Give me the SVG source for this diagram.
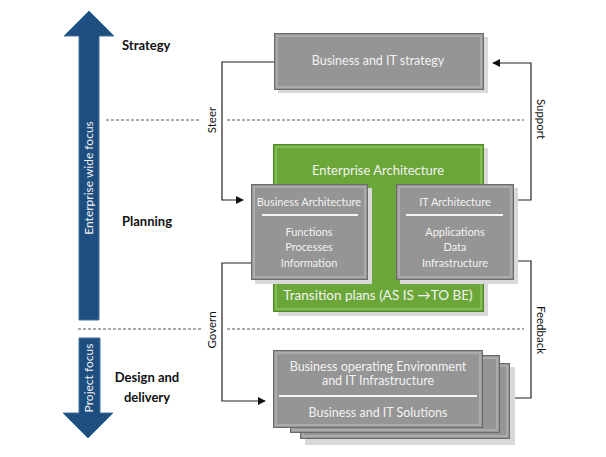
<svg xmlns="http://www.w3.org/2000/svg" width="606" height="457" viewBox="0 0 606 457">
<defs>
<style>
.lbl{font-family:Lato,"Open Sans",sans-serif;font-weight:bold;font-size:13px;fill:#111}
.side{font-family:Lato,"Open Sans",sans-serif;font-size:11.5px;fill:#111}
.wt{font-family:Lato,"Open Sans",sans-serif;fill:#f2f2f2;text-anchor:middle}
.shadow{fill:#d9d9d9}
.gout{fill:#959595;stroke:#6b6b6b;stroke-width:1}
.gin{fill:none;stroke:#b3b3b3;stroke-width:1.5}
.grn{fill:#6aa738;stroke:#4f8a26;stroke-width:1}
.grnin{fill:none;stroke:#8cc25e;stroke-width:1.5}
.sep{stroke:#f4f4f4;stroke-width:2}
.dash{stroke:#555;stroke-width:1;stroke-dasharray:3,2;fill:none}
.con{stroke:#222;stroke-width:1.2;fill:none}
.blue{fill:#1d4e7f;stroke:#4672a0;stroke-width:1}
</style>
<marker id="ah" viewBox="0 0 10 10" refX="9" refY="5" markerWidth="8" markerHeight="8" orient="auto" markerUnits="userSpaceOnUse">
<path d="M0,0 L10,5 L0,10 z" fill="#111"/>
</marker>
</defs>
<rect width="606" height="457" fill="#fff"/>

<g id="focus-arrows">
<polygon class="blue" points="89,11 114,36 99,36 99,320 79,320 79,36 64,36"/>
<polygon class="blue" points="79,338 100,338 100,413 113,413 88,438 63,413 79,413"/>
<text class="wt" font-size="12" transform="translate(93,178) rotate(-90)">Enterprise wide focus</text>
<text class="wt" font-size="12" transform="translate(93,378) rotate(-90)">Project focus</text>
</g>

<g id="level-labels">
<text class="lbl" x="122" y="50">Strategy</text>
<text class="lbl" x="122" y="226">Planning</text>
<text class="lbl" x="147" y="382" text-anchor="middle">Design and</text>
<text class="lbl" x="147" y="402" text-anchor="middle">delivery</text>
</g>

<g id="separators">
<line class="dash" x1="106" y1="120" x2="201" y2="120"/>
<line class="dash" x1="227" y1="120" x2="524" y2="120"/>
<line class="dash" x1="78" y1="329" x2="202" y2="329"/>
<line class="dash" x1="227" y1="329" x2="524" y2="329"/>
</g>

<g id="connectors">
<polyline class="con" points="274,62 222,62 222,200 243,200" marker-end="url(#ah)"/>
<polyline class="con" points="513,200 531,200 531,63 493,63" marker-end="url(#ah)"/>
<polyline class="con" points="251,263 222,263 222,401 265,401" marker-end="url(#ah)"/>
<polyline class="con" points="513,261 531,261 531,398 510,398"/>
<text class="side" transform="translate(216,120) rotate(-90)" text-anchor="middle">Steer</text>
<text class="side" transform="translate(216,330) rotate(-90)" text-anchor="middle">Govern</text>
<text class="side" transform="translate(537,119) rotate(90)" text-anchor="middle">Support</text>
<text class="side" transform="translate(537,330) rotate(90)" text-anchor="middle">Feedback</text>
</g>

<g id="strategy-box">
<rect class="shadow" x="278" y="37" width="210" height="56"/>
<rect class="gout" x="274.5" y="33.5" width="209" height="56"/>
<rect class="gin" x="277" y="36" width="204" height="51"/>
<text class="wt" font-size="12.5" x="378" y="65">Business and IT strategy</text>
</g>

<g id="enterprise-architecture">
<rect class="shadow" x="278" y="148" width="210" height="168"/>
<rect class="grn" x="273.5" y="144.5" width="210" height="167"/>
<rect class="grnin" x="276" y="147" width="205" height="162"/>
<text class="wt" font-size="13" x="378" y="175">Enterprise Architecture</text>
<text class="wt" font-size="13.5" x="378" y="300">Transition plans (AS IS →TO BE)</text>
</g>

<g id="business-architecture">
<rect class="shadow" x="255" y="188" width="117" height="96"/>
<rect class="gout" x="251.5" y="184.5" width="116" height="95"/>
<rect class="gin" x="254" y="187" width="111" height="90"/>
<text class="wt" font-size="11" x="309" y="206">Business Architecture</text>
<line class="sep" x1="262" y1="215" x2="358" y2="215"/>
<text class="wt" font-size="11" x="309" y="236">Functions</text>
<text class="wt" font-size="11" x="309" y="251">Processes</text>
<text class="wt" font-size="11" x="309" y="267">Information</text>
</g>

<g id="it-architecture">
<rect class="shadow" x="400" y="188" width="118" height="96"/>
<rect class="gout" x="396.5" y="184.5" width="117" height="95"/>
<rect class="gin" x="399" y="187" width="112" height="90"/>
<text class="wt" font-size="11" x="455" y="206">IT Architecture</text>
<line class="sep" x1="406" y1="215" x2="503" y2="215"/>
<text class="wt" font-size="11" x="455" y="236">Applications</text>
<text class="wt" font-size="11" x="455" y="251">Data</text>
<text class="wt" font-size="11" x="455" y="267">Infrastructure</text>
</g>

<g id="operating-environment">
<rect class="shadow" x="305" y="367" width="210" height="78"/>
<rect class="gout" x="300.5" y="363.5" width="209" height="75"/>
<rect class="gin" x="303" y="366" width="204" height="70"/>
<rect class="gout" x="290.5" y="355.5" width="209" height="77"/>
<rect class="gin" x="293" y="358" width="204" height="72"/>
<rect class="gout" x="273.5" y="350.5" width="209" height="77"/>
<rect class="gin" x="276" y="353" width="204" height="72"/>
<text class="wt" font-size="12.5" x="378" y="371">Business operating Environment</text>
<text class="wt" font-size="12.5" x="378" y="385">and IT Infrastructure</text>
<line class="sep" x1="279" y1="396" x2="477" y2="396"/>
<text class="wt" font-size="12.5" x="378" y="417">Business and IT Solutions</text>
</g>
</svg>
